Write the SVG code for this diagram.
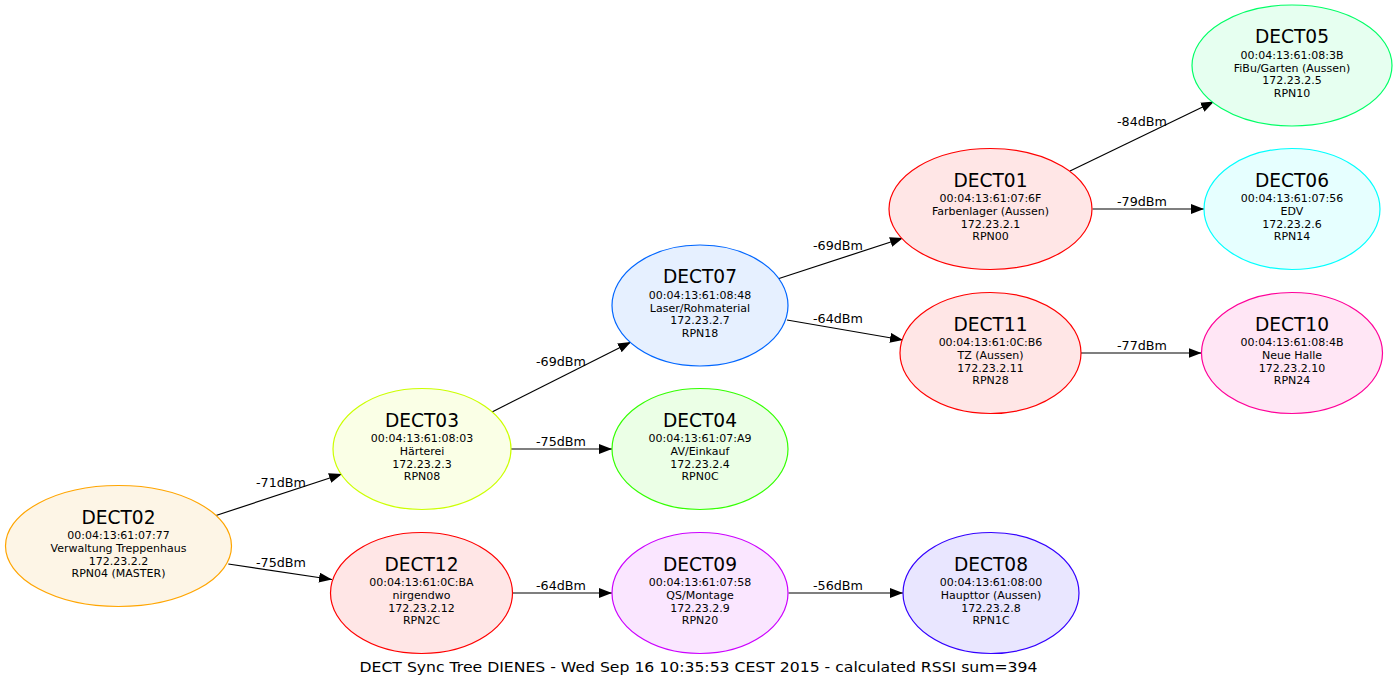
<svg xmlns="http://www.w3.org/2000/svg" width="1397" height="688" viewBox="0 0 1397 688">
<style>
text{font-family:"DejaVu Sans","Liberation Sans",sans-serif;fill:#000;text-anchor:middle}
.t{font-size:18.6px}
.s{font-size:11px}
.l{font-size:11.5px}
.f{font-size:14px}
ellipse{stroke-width:1.2}
.e line{stroke:#000;stroke-width:1.2;marker-end:url(#ah)}
</style>
<defs>
<marker id="ah" markerUnits="userSpaceOnUse" markerWidth="14" markerHeight="11" refX="13" refY="5" orient="auto">
<path d="M0,0 L13,5 L0,10 z" fill="#000"/>
</marker>
</defs>
<rect width="1397" height="688" fill="#fff"/>
<g class="e" id="connectors">
<line x1="216" y1="515.5" x2="342" y2="474"/>
<line x1="228.3" y1="564" x2="332" y2="579.5"/>
<line x1="492" y1="412" x2="631" y2="342"/>
<line x1="511" y1="449" x2="612" y2="449"/>
<line x1="512.5" y1="593" x2="612" y2="593"/>
<line x1="779" y1="278.5" x2="903" y2="238"/>
<line x1="787" y1="320" x2="903" y2="340"/>
<line x1="788.5" y1="593" x2="903" y2="593"/>
<line x1="1070" y1="171" x2="1214" y2="101.5"/>
<line x1="1092.5" y1="209" x2="1204" y2="209"/>
<line x1="1081" y1="353" x2="1201.5" y2="353"/>
<text class="l" x="281" y="486.5" textLength="50" lengthAdjust="spacingAndGlyphs">-71dBm</text>
<text class="l" x="281" y="567" textLength="50" lengthAdjust="spacingAndGlyphs">-75dBm</text>
<text class="l" x="561" y="365.5" textLength="50" lengthAdjust="spacingAndGlyphs">-69dBm</text>
<text class="l" x="561" y="445.5" textLength="50" lengthAdjust="spacingAndGlyphs">-75dBm</text>
<text class="l" x="561" y="589.5" textLength="50" lengthAdjust="spacingAndGlyphs">-64dBm</text>
<text class="l" x="838" y="249.5" textLength="50" lengthAdjust="spacingAndGlyphs">-69dBm</text>
<text class="l" x="838" y="322.5" textLength="50" lengthAdjust="spacingAndGlyphs">-64dBm</text>
<text class="l" x="838" y="589.5" textLength="50" lengthAdjust="spacingAndGlyphs">-56dBm</text>
<text class="l" x="1142" y="125.5" textLength="50" lengthAdjust="spacingAndGlyphs">-84dBm</text>
<text class="l" x="1142" y="205.5" textLength="50" lengthAdjust="spacingAndGlyphs">-79dBm</text>
<text class="l" x="1142" y="349.5" textLength="50" lengthAdjust="spacingAndGlyphs">-77dBm</text>
</g>
<g id="DECT02">
<ellipse cx="118.5" cy="546" rx="113" ry="60.5" fill="#fdf5e6" stroke="#ffa500"/>
<text class="t" x="118.5" y="523.5">DECT02</text>
<text class="s" x="118.5" y="539">00:04:13:61:07:77</text>
<text class="s" x="118.5" y="552">Verwaltung Treppenhaus</text>
<text class="s" x="118.5" y="564.7">172.23.2.2</text>
<text class="s" x="118.5" y="577.3">RPN04 (MASTER)</text>
</g>
<g id="DECT03">
<ellipse cx="422" cy="449" rx="89" ry="60.5" fill="#faffe6" stroke="#ccff00"/>
<text class="t" x="422" y="426.5">DECT03</text>
<text class="s" x="422" y="442">00:04:13:61:08:03</text>
<text class="s" x="422" y="455">Härterei</text>
<text class="s" x="422" y="467.7">172.23.2.3</text>
<text class="s" x="422" y="480.3">RPN08</text>
</g>
<g id="DECT12">
<ellipse cx="421.5" cy="593" rx="91" ry="60.5" fill="#ffe6e6" stroke="#ff0000"/>
<text class="t" x="421.5" y="570.5">DECT12</text>
<text class="s" x="421.5" y="586">00:04:13:61:0C:BA</text>
<text class="s" x="421.5" y="599">nirgendwo</text>
<text class="s" x="421.5" y="611.7">172.23.2.12</text>
<text class="s" x="421.5" y="624.3">RPN2C</text>
</g>
<g id="DECT07">
<ellipse cx="700" cy="305.5" rx="88" ry="60.5" fill="#e6f0ff" stroke="#0066ff"/>
<text class="t" x="700" y="283">DECT07</text>
<text class="s" x="700" y="298.5">00:04:13:61:08:48</text>
<text class="s" x="700" y="311.5">Laser/Rohmaterial</text>
<text class="s" x="700" y="324.2">172.23.2.7</text>
<text class="s" x="700" y="336.8">RPN18</text>
</g>
<g id="DECT04">
<ellipse cx="700" cy="449" rx="88" ry="60.5" fill="#ebffe6" stroke="#33ff00"/>
<text class="t" x="700" y="426.5">DECT04</text>
<text class="s" x="700" y="442">00:04:13:61:07:A9</text>
<text class="s" x="700" y="455">AV/Einkauf</text>
<text class="s" x="700" y="467.7">172.23.2.4</text>
<text class="s" x="700" y="480.3">RPN0C</text>
</g>
<g id="DECT09">
<ellipse cx="700" cy="593" rx="88" ry="60.5" fill="#fae6ff" stroke="#cc00ff"/>
<text class="t" x="700" y="570.5">DECT09</text>
<text class="s" x="700" y="586">00:04:13:61:07:58</text>
<text class="s" x="700" y="599">QS/Montage</text>
<text class="s" x="700" y="611.7">172.23.2.9</text>
<text class="s" x="700" y="624.3">RPN20</text>
</g>
<g id="DECT01">
<ellipse cx="990.5" cy="209" rx="101.5" ry="60.5" fill="#ffe6e6" stroke="#ff0000"/>
<text class="t" x="990.5" y="186.5">DECT01</text>
<text class="s" x="990.5" y="202">00:04:13:61:07:6F</text>
<text class="s" x="990.5" y="215">Farbenlager (Aussen)</text>
<text class="s" x="990.5" y="227.7">172.23.2.1</text>
<text class="s" x="990.5" y="240.3">RPN00</text>
</g>
<g id="DECT11">
<ellipse cx="990.5" cy="353" rx="90.5" ry="60.5" fill="#ffe6e6" stroke="#ff0000"/>
<text class="t" x="990.5" y="330.5">DECT11</text>
<text class="s" x="990.5" y="346">00:04:13:61:0C:B6</text>
<text class="s" x="990.5" y="359">TZ (Aussen)</text>
<text class="s" x="990.5" y="371.7">172.23.2.11</text>
<text class="s" x="990.5" y="384.3">RPN28</text>
</g>
<g id="DECT08">
<ellipse cx="991" cy="593" rx="88" ry="60.5" fill="#e9e6ff" stroke="#3300ff"/>
<text class="t" x="991" y="570.5">DECT08</text>
<text class="s" x="991" y="586">00:04:13:61:08:00</text>
<text class="s" x="991" y="599">Haupttor (Aussen)</text>
<text class="s" x="991" y="611.7">172.23.2.8</text>
<text class="s" x="991" y="624.3">RPN1C</text>
</g>
<g id="DECT05">
<ellipse cx="1292" cy="65.5" rx="100" ry="60.5" fill="#e6fff0" stroke="#00ff66"/>
<text class="t" x="1292" y="43">DECT05</text>
<text class="s" x="1292" y="58.5">00:04:13:61:08:3B</text>
<text class="s" x="1292" y="71.5">FiBu/Garten (Aussen)</text>
<text class="s" x="1292" y="84.2">172.23.2.5</text>
<text class="s" x="1292" y="96.8">RPN10</text>
</g>
<g id="DECT06">
<ellipse cx="1292" cy="209" rx="88" ry="60.5" fill="#e6ffff" stroke="#00ffff"/>
<text class="t" x="1292" y="186.5">DECT06</text>
<text class="s" x="1292" y="202">00:04:13:61:07:56</text>
<text class="s" x="1292" y="215">EDV</text>
<text class="s" x="1292" y="227.7">172.23.2.6</text>
<text class="s" x="1292" y="240.3">RPN14</text>
</g>
<g id="DECT10">
<ellipse cx="1292" cy="353" rx="90.5" ry="60.5" fill="#ffe6f5" stroke="#ff0099"/>
<text class="t" x="1292" y="330.5">DECT10</text>
<text class="s" x="1292" y="346">00:04:13:61:08:4B</text>
<text class="s" x="1292" y="359">Neue Halle</text>
<text class="s" x="1292" y="371.7">172.23.2.10</text>
<text class="s" x="1292" y="384.3">RPN24</text>
</g>
<g id="title">
<text class="f" x="698.5" y="671.5" textLength="678" lengthAdjust="spacingAndGlyphs">DECT Sync Tree DIENES - Wed Sep 16 10:35:53 CEST 2015 - calculated RSSI sum=394</text>
</g>
</svg>
